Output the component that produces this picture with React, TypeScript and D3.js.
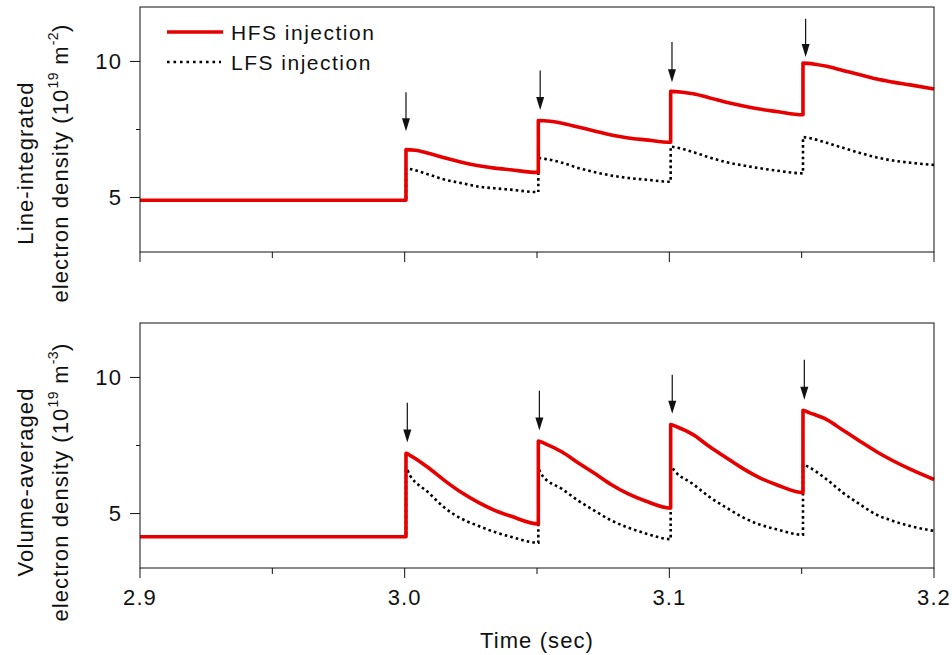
import React from "react";
import * as d3 from "d3";

type P = [number, number];

// Line-integrated density (10^19 m^-2)
const topHfs: P[] = [
  [2.9, 4.9], [3.0005, 4.9], [3.0005, 6.76], [3.004, 6.74], [3.009, 6.63], [3.015, 6.46], [3.0215, 6.3],
  [3.028, 6.17], [3.034, 6.08], [3.04, 6.02], [3.0505, 5.92],
  [3.0505, 7.83], [3.055, 7.8], [3.0595, 7.73], [3.0655, 7.59], [3.072, 7.44], [3.078, 7.3], [3.0845, 7.19],
  [3.091, 7.12], [3.1005, 7.03],
  [3.1005, 8.9], [3.105, 8.87], [3.109, 8.81], [3.115, 8.67], [3.1215, 8.5], [3.128, 8.36], [3.134, 8.25],
  [3.1405, 8.16], [3.1505, 8.04],
  [3.1505, 9.94], [3.155, 9.9], [3.1595, 9.82], [3.1655, 9.67], [3.172, 9.51], [3.178, 9.36], [3.1845, 9.24],
  [3.191, 9.14], [3.2, 8.99],
];
const topLfs: P[] = [
  [2.9, 4.9], [3.0005, 4.9], [3.0005, 6.08], [3.002, 6.05], [3.009, 5.85], [3.015, 5.66], [3.0215, 5.53],
  [3.028, 5.4], [3.034, 5.34], [3.04, 5.29], [3.0505, 5.2],
  [3.0505, 6.45], [3.053, 6.42], [3.0595, 6.28], [3.0655, 6.09], [3.072, 5.93], [3.078, 5.81], [3.0845, 5.72],
  [3.091, 5.66], [3.1005, 5.58],
  [3.1005, 6.87], [3.102, 6.85], [3.109, 6.67], [3.115, 6.48], [3.1215, 6.3], [3.128, 6.18], [3.134, 6.08],
  [3.1405, 5.99], [3.1505, 5.89],
  [3.1505, 7.22], [3.152, 7.2], [3.1595, 7.01], [3.1655, 6.83], [3.172, 6.64], [3.178, 6.48], [3.1845, 6.36],
  [3.191, 6.28], [3.2, 6.2],
];
// Volume-averaged density (10^19 m^-3)
const botHfs: P[] = [
  [2.9, 4.15], [3.0005, 4.15], [3.0005, 7.21], [3.002, 7.14], [3.009, 6.68], [3.015, 6.22], [3.0215, 5.77],
  [3.028, 5.4], [3.034, 5.12], [3.04, 4.91], [3.0505, 4.62],
  [3.0505, 7.66], [3.053, 7.57], [3.0595, 7.26], [3.0655, 6.87], [3.072, 6.46], [3.078, 6.07], [3.0845, 5.72],
  [3.091, 5.46], [3.1005, 5.2],
  [3.1005, 8.27], [3.103, 8.18], [3.109, 7.9], [3.115, 7.47], [3.1215, 7.05], [3.128, 6.64], [3.134, 6.32],
  [3.1405, 6.06], [3.1505, 5.77],
  [3.1505, 8.79], [3.153, 8.7], [3.1595, 8.45], [3.1655, 8.07], [3.172, 7.66], [3.178, 7.29], [3.1845, 6.94],
  [3.191, 6.63], [3.2, 6.25],
];
const botLfs: P[] = [
  [2.9, 4.15], [3.0005, 4.15], [3.0005, 6.65], [3.002, 6.4], [3.009, 5.77], [3.015, 5.22], [3.0215, 4.81],
  [3.028, 4.54], [3.034, 4.32], [3.04, 4.15], [3.0505, 3.93],
  [3.0505, 6.62], [3.052, 6.4], [3.0595, 5.9], [3.0655, 5.48], [3.072, 5.09], [3.078, 4.75], [3.0845, 4.48],
  [3.091, 4.27], [3.1005, 4.06],
  [3.1005, 6.74], [3.102, 6.56], [3.109, 6.08], [3.115, 5.62], [3.1215, 5.22], [3.128, 4.85], [3.134, 4.6],
  [3.1405, 4.42], [3.1505, 4.22],
  [3.1505, 6.8], [3.152, 6.74], [3.1595, 6.25], [3.1655, 5.77], [3.172, 5.34], [3.178, 4.97], [3.1845, 4.73],
  [3.191, 4.54], [3.2, 4.36],
];

// arrows: [time, top value, tip value]
const topArrows: [number, number, number][] = [
  [3.0005, 8.87, 7.44], [3.0512, 9.67, 8.22], [3.101, 10.71, 9.24], [3.1515, 11.57, 10.16],
];
const botArrows: [number, number, number][] = [
  [3.001, 9.07, 7.61], [3.0509, 9.51, 8.05], [3.1011, 10.1, 8.67], [3.151, 10.65, 9.18],
];

const xMajor = [2.9, 3.0, 3.1, 3.2];
const xMinor = [2.95, 3.05, 3.15];
const yMajor = [5, 10];
const yMinor = [7.5];
const xDomain: [number, number] = [2.9, 3.2];
const yDomain: [number, number] = [3, 12];

const FONT = "'Liberation Sans', Arial, sans-serif";
const RED = "#e60000";

const W = 952;
const H = 655;
const L = 140;
const R = 934;

const x = d3.scaleLinear().domain(xDomain).range([L, R]);

function nudge(d: P[]): P[] {
  const out: P[] = [];
  d.forEach((p, i) => {
    if (i > 0 && p[0] === d[i - 1][0]) out.push([p[0] + 1e-6, p[1]]);
    else out.push(p);
  });
  return out;
}

function Panel({ top, bottom, hfs, lfs, arrows, showXLabels }: any) {
  const y = d3.scaleLinear().domain(yDomain).range([bottom, top]);
  const line = d3
    .line<P>()
    .x((d) => x(d[0]))
    .y((d) => y(d[1]))
    .curve(d3.curveMonotoneX);
  return (
    <g>
      <path d={line(nudge(lfs)) || ""} fill="none" stroke="#000" strokeWidth={2.6} strokeDasharray="2.6 3.1" />
      <path d={line(nudge(hfs)) || ""} fill="none" stroke={RED} strokeWidth={3.6} strokeLinejoin="round" />
      <rect x={L} y={top} width={R - L} height={bottom - top} fill="none" stroke="#111" strokeWidth={1} />
      {xMajor.map((t) => (
        <line key={"xM" + t} x1={x(t)} x2={x(t)} y1={bottom} y2={bottom + 10} stroke="#111" />
      ))}
      {xMinor.map((t) => (
        <line key={"xm" + t} x1={x(t)} x2={x(t)} y1={bottom} y2={bottom + 6} stroke="#111" />
      ))}
      {yMajor.map((v) => (
        <g key={"yM" + v}>
          <line x1={L - 10} x2={L} y1={y(v)} y2={y(v)} stroke="#111" />
          <text x={L - 18} y={y(v)} dy="0.36em" textAnchor="end" fontSize={22} letterSpacing={1.1} fill="#111">
            {v}
          </text>
        </g>
      ))}
      {yMinor.map((v) => (
        <line key={"ym" + v} x1={L - 4} x2={L} y1={y(v)} y2={y(v)} stroke="#111" />
      ))}
      {showXLabels &&
        xMajor.map((t) => (
          <text key={"xl" + t} x={x(t)} y={bottom + 37} textAnchor="middle" fontSize={22} letterSpacing={1.1} fill="#111">
            {t.toFixed(1)}
          </text>
        ))}
      {arrows.map((a: [number, number, number], i: number) => {
        const ax = x(a[0]);
        const y0 = y(a[1]);
        const y1 = y(a[2]);
        return (
          <g key={"ar" + i}>
            <line x1={ax} x2={ax} y1={y0} y2={y1 - 10} stroke="#111" strokeWidth={1.2} />
            <path d={`M${ax - 4},${y1 - 13} L${ax + 4},${y1 - 13} L${ax},${y1} Z`} fill="#111" />
          </g>
        );
      })}
    </g>
  );
}

function YLabel({ cy, line1, unit }: { cy: number; line1: string; unit: string }) {
  return (
    <g fontSize={22} letterSpacing={1.1} fill="#111">
      <text transform={`translate(33,${cy}) rotate(-90)`} textAnchor="middle">
        {line1}
      </text>
      <text transform={`translate(68,${cy}) rotate(-90)`} textAnchor="middle">
        electron density (10
        <tspan fontSize={14} dy={-10} letterSpacing={0.5}>19</tspan>
        <tspan dy={10}> m</tspan>
        <tspan fontSize={14} dy={-10} letterSpacing={0.5}>{unit}</tspan>
        <tspan dy={10}>)</tspan>
      </text>
    </g>
  );
}

export default function App() {
  return (
    <svg
      width={W}
      height={H}
      style={{ position: "absolute", left: 0, top: 0, background: "#fff" }}
      fontFamily={FONT}
    >
      <rect width={W} height={H} fill="#fff" />
      <Panel top={7} bottom={252} hfs={topHfs} lfs={topLfs} arrows={topArrows} showXLabels={false} />
      <Panel top={323} bottom={568} hfs={botHfs} lfs={botLfs} arrows={botArrows} showXLabels={true} />
      <YLabel cy={163} line1="Line-integrated" unit="-2" />
      <YLabel cy={482} line1="Volume-averaged" unit="-3" />
      <text x={(L + R) / 2} y={648} textAnchor="middle" fontSize={22} letterSpacing={1.1} fill="#111">
        Time (sec)
      </text>
      {/* legend */}
      <line x1={167} x2={223} y1={32} y2={32} stroke={RED} strokeWidth={3.6} />
      <text x={231} y={39.5} fontSize={21} letterSpacing={1.5} fill="#111">
        HFS injection
      </text>
      <line x1={167} x2={221} y1={62} y2={62} stroke="#000" strokeWidth={2.6} strokeDasharray="2.6 3.9" />
      <text x={231} y={70} fontSize={21} letterSpacing={1.5} fill="#111">
        LFS injection
      </text>
    </svg>
  );
}
